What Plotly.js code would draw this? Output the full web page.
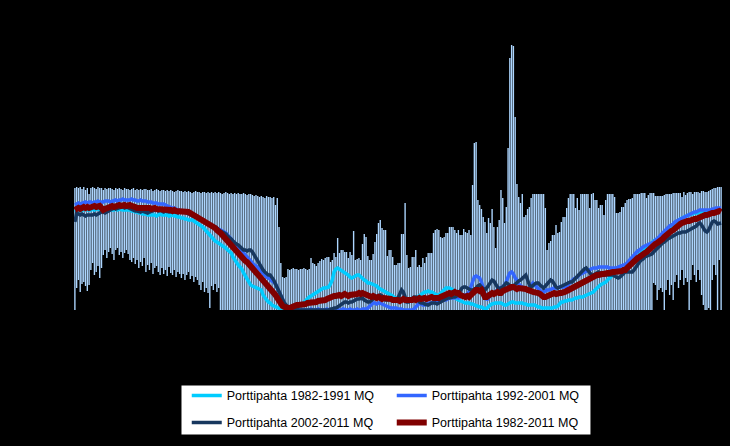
<!DOCTYPE html>
<html><head><meta charset="utf-8">
<script src="https://cdn.plot.ly/plotly-3.0.1.min.js"></script>
<style>html,body{margin:0;padding:0;background:#000;}#chart{width:730px;height:446px;}</style>
</head><body><div id="chart"></div>
<script>
const seriesNames = ["Porttipahta 1982-1991 MQ","Porttipahta 1992-2001 MQ","Porttipahta 2002-2011 MQ","Porttipahta 1982-2011 MQ"];

// daily range bars (min / max)
const rangeHigh = [
122,123,122,123,121,123,120,122,116,122,
123,122,121,123,122,122,120,122,121,122,
122,121,120,122,121,122,121,120,122,121,
121,120,121,122,120,121,120,121,120,121,
121,120,120,121,119,120,121,120,119,120,
120,119,120,119,120,119,118,119,120,119,
119,118,119,118,119,118,117,118,119,118,
118,117,118,118,117,118,117,118,117,118,
117,118,117,116,117,118,117,116,117,116,
117,116,117,116,116,117,116,115,116,116,
115,114,115,114,113,114,113,112,114,113,
113,112,113,105,112,83,47,33,32,33,
41,40,41,42,41,41,40,41,41,42,
41,40,41,52,47,46,44,47,49,51,
50,52,53,53,48,50,57,53,72,57,
60,60,58,58,52,58,55,79,50,51,
52,50,66,76,73,54,50,50,56,68,
76,87,90,82,80,80,54,60,60,53,
45,45,47,47,76,76,107,55,42,43,
53,53,60,43,45,43,52,47,53,57,
57,57,77,80,81,80,73,72,73,77,
77,83,83,83,80,77,80,75,75,81,
78,77,80,75,125,167,168,110,105,101,
93,88,77,92,87,101,83,62,83,90,
120,112,87,103,162,252,265,264,193,126,
113,107,116,93,95,101,103,112,116,116,
116,116,116,116,116,102,60,67,69,75,
75,85,77,78,88,93,93,102,112,116,
116,116,102,112,100,116,116,116,116,116,
102,116,117,110,110,102,105,105,95,110,
116,116,116,116,113,97,97,98,103,103,
107,110,111,111,112,116,116,116,116,117,
117,117,112,115,117,117,117,114,114,114,
114,114,115,116,116,116,116,117,117,117,
117,117,113,118,115,117,118,118,116,118,
118,118,117,119,119,118,118,119,120,121,
122,122,123,123,123];

const rangeLow = [
0,22,30,18,26,28,24,19,25,40,
47,35,38,44,32,42,55,60,52,58,
62,56,50,60,62,55,58,52,57,60,
56,50,48,52,46,50,42,48,44,52,
38,45,40,47,36,42,44,38,35,42,
36,40,34,43,37,35,40,33,38,36,
32,36,30,35,38,31,34,28,33,30,
25,20,28,18,22,17,2,24,20,26,
18,22,0,0,0,0,0,0,0,0,
0,0,0,0,0,0,0,0,0,0,
0,0,0,0,0,0,0,0,0,0,
0,0,0,0,0,0,0,0,0,0,
0,0,0,0,0,0,0,0,0,0,
0,0,0,0,0,0,0,0,0,0,
0,0,0,0,0,0,0,0,0,0,
0,0,0,0,0,0,0,0,0,0,
0,0,0,0,0,0,0,0,0,0,
0,0,0,0,0,0,0,0,0,0,
0,0,0,0,0,0,0,0,0,0,
0,0,0,0,0,0,0,0,0,0,
0,0,0,0,0,0,0,0,0,0,
0,0,0,0,0,0,0,0,0,0,
0,0,0,0,0,0,0,0,0,0,
0,0,0,0,0,0,0,0,0,0,
0,0,0,0,0,0,0,0,0,0,
0,0,0,0,0,0,0,0,0,0,
0,0,0,0,0,0,0,0,0,0,
0,0,0,0,0,0,0,0,0,0,
0,0,0,0,0,0,0,0,0,0,
0,0,0,0,0,0,0,0,0,0,
0,0,0,0,0,0,0,0,0,0,
0,0,0,0,0,0,0,0,0,0,
0,0,0,0,0,0,27,25,10,20,
22,18,0,20,30,15,25,10,28,35,
22,30,40,25,32,28,0,30,45,35,
28,40,30,15,5,0,0,2,0,30,
45,35,0,50,0];

const mq1982_1991 = [
98,99,100,99,100,100,101,100,100,100,
101,100,101,101,100,101,101,101,100,101,
101,100,100,101,100,101,100,100,100,100,
100,100,99,99,98,98,97,97,96,96,
96,95,95,95,95,95,94,95,96,95,
95,95,95,94,95,95,94,94,93,93,
92,92,91,91,90,90,90,89,88,87,
86,85,83,81,79,77,75,72,70,69,
68,67,66,65,63,62,60,59,57,53,
50,47,45,43,41,37,34,31,28,25,
24,23,23,22,21,20,15,12,10,8,
7,5,4,3,2,1,0,0,0,1,
2,2,2,3,3,3,3,4,6,8,
10,11,13,14,15,16,17,19,20,21,
22,22,23,23,26,30,38,41,42,41,
40,39,38,36,35,33,32,33,34,35,
35,33,32,30,29,27,27,26,26,25,
24,22,21,20,19,18,17,16,15,14,
12,12,11,10,10,10,10,10,10,11,
11,12,12,13,14,15,16,18,18,19,
18,18,17,16,15,15,17,19,21,22,
22,22,21,20,15,11,10,9,8,7,
7,7,7,6,6,5,4,3,3,3,
2,0,2,4,5,6,7,7,7,7,
7,6,5,5,6,7,8,8,7,7,
7,7,7,6,6,5,5,5,5,5,
4,3,3,2,2,2,2,2,2,2,
3,3,4,6,8,8,9,9,10,10,
10,11,12,12,13,13,13,14,15,15,
16,17,18,20,22,23,25,26,27,28,
30,32,33,35,36,37,38,39,40,41,
42,44,45,47,48,50,52,53,55,57,
59,60,62,64,66,68,69,70,71,72,
73,75,76,78,80,82,84,85,86,88,
90,91,92,93,94,95,95,96,96,97,
97,97,98,98,98,98,98,99,99,99,
99,100,100,100,101];

const mq1992_2001 = [
105,106,107,106,107,108,108,107,108,108,
107,108,108,109,108,108,108,109,109,109,
108,109,109,110,109,110,110,111,110,110,
110,110,111,110,110,109,109,110,109,109,
109,108,108,108,107,107,107,106,106,106,
106,105,104,104,103,102,102,101,100,100,
99,99,98,98,97,96,96,95,94,93,
92,91,90,89,88,87,86,85,84,83,
82,81,80,79,78,77,75,73,71,69,
67,65,63,61,59,57,55,53,51,48,
46,45,44,42,40,38,36,35,33,32,
31,29,28,26,22,18,15,10,6,3,
2,1,1,0,0,0,0,0,0,0,
0,0,0,1,0,0,0,1,0,0,
0,0,1,0,0,0,1,0,0,0,
0,1,0,0,0,1,0,0,0,1,
0,0,1,1,1,2,4,6,7,7,
6,7,7,6,5,4,3,3,2,2,
2,2,1,1,1,0,0,0,0,0,
0,1,3,5,7,6,5,5,6,6,
7,7,8,8,8,9,9,10,10,10,
11,12,12,12,12,13,12,13,14,15,
15,16,18,22,28,33,34,33,32,28,
22,15,10,12,15,17,17,18,20,22,
23,23,25,28,33,37,38,36,32,30,
26,24,23,22,21,20,22,25,27,25,
23,21,19,18,18,19,20,20,21,21,
22,22,22,23,23,23,23,24,26,28,
29,31,32,33,35,36,37,38,38,39,
40,41,42,42,42,43,43,43,43,43,
43,42,42,42,42,42,43,44,44,45,
45,47,50,52,54,55,57,59,60,62,
63,64,65,65,66,67,68,70,71,73,
75,77,79,80,82,84,85,86,88,89,
90,91,92,93,93,94,95,96,97,98,
98,99,100,100,100,100,100,100,100,101,
101,102,102,102,102];

const mq2002_2011 = [
88,97,96,95,96,95,94,95,95,95,
95,96,95,96,97,98,98,97,98,99,
100,101,102,101,102,103,103,103,102,103,
102,101,100,100,99,99,98,98,99,98,
98,97,98,99,99,100,100,99,100,99,
98,99,98,98,98,99,98,98,97,98,
98,98,98,97,96,95,94,93,92,91,
90,90,90,89,88,87,86,85,84,83,
82,80,79,78,77,76,74,73,71,69,
67,66,65,63,62,60,60,59,60,60,
58,55,52,48,45,42,40,38,36,35,
35,33,30,26,22,18,14,10,7,5,
3,2,3,2,1,1,0,0,0,0,
0,0,0,0,0,0,0,0,0,0,
0,0,0,0,1,1,2,2,3,4,
5,7,8,8,7,8,8,9,10,11,
11,12,12,10,9,8,8,9,11,13,
14,15,15,14,12,10,10,11,10,10,
10,10,12,16,20,18,12,8,8,10,
12,13,13,10,8,7,7,6,5,5,
6,7,7,7,6,7,8,9,10,11,
12,12,13,13,13,14,16,19,22,23,
23,22,21,20,20,21,22,24,25,23,
21,20,22,25,28,30,29,26,22,20,
22,23,25,27,26,24,22,24,26,28,
29,30,32,34,35,30,25,23,25,26,
27,27,25,23,22,24,26,28,30,29,
26,23,22,23,24,25,25,26,27,28,
28,30,32,34,35,37,39,41,42,40,
37,35,35,36,37,38,37,36,35,35,
35,35,35,35,34,33,32,33,35,37,
38,38,38,38,38,40,43,46,48,50,
51,53,54,55,55,56,58,60,62,63,
65,67,68,70,71,72,73,74,75,76,
77,77,78,78,78,79,80,81,82,83,
84,86,87,85,82,79,78,80,84,88,
89,88,86,87,87];

const mq1982_2011 = [
100,101,102,101,102,103,102,103,102,103,
103,104,103,104,104,102,100,101,102,103,
103,104,103,104,104,105,104,105,105,104,
105,105,104,104,103,102,102,103,102,102,
103,102,102,101,102,102,101,101,100,101,
100,100,101,100,100,99,100,99,99,99,
98,99,98,98,98,97,96,95,94,93,
92,91,90,88,87,86,85,84,83,82,
80,79,77,75,73,71,69,66,64,61,
59,58,56,54,52,50,49,48,46,44,
42,41,39,37,35,33,31,29,27,25,
22,19,17,15,12,9,6,4,3,2,
2,2,3,4,5,5,5,5,6,6,
6,7,7,7,7,8,8,9,9,10,
10,10,11,12,13,13,14,14,15,15,
14,15,16,15,14,15,15,16,15,16,
17,16,17,16,15,14,13,13,14,13,
12,13,12,11,12,12,11,12,11,10,
10,11,10,9,10,11,10,10,9,10,
10,11,10,11,12,11,12,12,11,12,
12,13,12,12,11,12,13,14,15,16,
17,17,16,17,18,17,17,15,14,13,
13,14,13,15,17,19,20,20,19,20,
16,13,13,15,17,17,16,17,18,17,
17,19,20,21,22,22,23,23,22,21,
22,22,21,22,21,20,20,19,18,18,
18,17,16,14,13,13,14,15,16,17,
17,16,17,17,17,17,18,19,20,21,
22,23,23,24,25,26,27,28,30,31,
32,33,33,34,35,35,36,36,36,37,
37,37,38,38,38,38,39,38,39,40,
40,42,44,45,47,48,50,52,53,55,
56,57,58,60,61,63,64,66,67,68,
70,71,73,75,76,78,79,80,82,84,
85,86,87,88,88,89,89,90,90,91,
91,92,93,93,94,95,95,96,96,97,
97,98,98,99,98];

const days = rangeHigh.map((_, i) => i + 1);
const rangeSpan = rangeHigh.map((h, i) => h - rangeLow[i]);

const lineColors = ["#00CCFF", "#3366FF", "#17375E", "#800000"];
const lineWidths = [3.5, 3.5, 3.5, 6];
const lineData = [mq1982_1991, mq1992_2001, mq2002_2011, mq1982_2011];
const legendIds = ["legend", "legend", "legend2", "legend2"];

const traces = [{
  type: "bar", x: days, y: rangeSpan, base: rangeLow,
  marker: {color: "#ADD6FF", line: {width: 0}},
  showlegend: false, hoverinfo: "skip"
}];
lineData.forEach((d, k) => {
  traces.push({
    type: "scatter", mode: "lines", x: days, y: d, name: seriesNames[k],
    line: {color: lineColors[k], width: lineWidths[k]},
    legend: legendIds[k], hoverinfo: "skip"
  });
});

const legendBase = {
  orientation: "h", xanchor: "left", yanchor: "middle", x: 0.174,
  bgcolor: "rgba(0,0,0,0)", borderwidth: 0,
  font: {family: "Liberation Sans, Arial, sans-serif", size: 12.5, color: "#000"},
  entrywidth: 160, entrywidthmode: "pixels", itemwidth: 30, traceorder: "normal"
};

const layout = {
  width: 730, height: 446,
  paper_bgcolor: "#000", plot_bgcolor: "#000",
  margin: {l: 74, r: 8, t: 40, b: 136, pad: 0},
  xaxis: {range: [0.5, 365.5], visible: false, fixedrange: true},
  yaxis: {range: [0, 270], visible: false, fixedrange: true},
  bargap: 0.22,
  showlegend: true,
  hovermode: false,
  legend: Object.assign({}, legendBase, {y: -0.3185}),
  legend2: Object.assign({}, legendBase, {y: -0.4185}),
  shapes: [{
    type: "rect", xref: "paper", yref: "paper",
    x0: 0.1651, x1: 0.7978, y0: -0.463, y1: -0.2778,
    fillcolor: "#FFFFFF", line: {color: "#000000", width: 1}, layer: "below"
  }]
};

Plotly.newPlot("chart", traces, layout, {displayModeBar: false, staticPlot: true});
</script>
</body></html>
